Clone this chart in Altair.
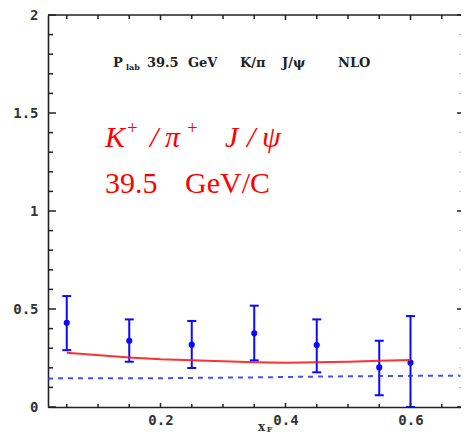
import altair as alt
import pandas as pd

# ---------------- data ----------------
xf = [0.05, 0.15, 0.25, 0.35, 0.45, 0.55, 0.60]
ratio = [0.430, 0.338, 0.318, 0.376, 0.316, 0.202, 0.226]
err_lo = [0.290, 0.231, 0.199, 0.238, 0.177, 0.060, 0.000]
err_hi = [0.566, 0.447, 0.439, 0.517, 0.447, 0.338, 0.464]

nlo_x = [0.05, 0.15, 0.20, 0.25, 0.30, 0.35, 0.40, 0.45, 0.50, 0.55, 0.60]
nlo_y = [0.277, 0.252, 0.243, 0.238, 0.233, 0.228, 0.226, 0.228, 0.231, 0.236, 0.240]

base_x = [0.02, 0.20, 0.35, 0.45, 0.55, 0.68]
base_y = [0.146, 0.147, 0.151, 0.155, 0.158, 0.160]

x_major = [0.2, 0.4, 0.6]
x_minor = [0.05, 0.10, 0.15, 0.25, 0.30, 0.35, 0.45, 0.50, 0.55, 0.65]
y_major = [0.0, 0.5, 1.0, 1.5, 2.0]
y_minor = [0.1, 0.2, 0.3, 0.4, 0.6, 0.7, 0.8, 0.9, 1.1, 1.2, 1.3, 1.4,
           1.6, 1.7, 1.8, 1.9]

# annotation texts
top_texts = ["P", "39.5", "GeV", "K/π", "J/ψ", "NLO"]
top_sub = ["lab"]
red_italic = ["K", "/", "π", "J", "/", "ψ"]
red_plus = ["+", "+"]
red_plain = ["39.5", "GeV/C"]

# annotation positions (data coordinates)
top_tx = [0.124, 0.1784, 0.244, 0.3272, 0.3944, 0.484]
top_ty = 1.7347
sub_tx = [0.1448]
sub_ty = 1.7194
ri_x = [0.1112, 0.1832, 0.2072, 0.3032, 0.3384, 0.3624]
ri_y = 1.3265
rp_x = [0.1464, 0.2424]
rp_y = 1.3929
rn_x = [0.1112, 0.2392]
rn_y = 1.0918
title_x = [0.3560, 0.3700]
title_y = [-0.1224, -0.1300]

W, H = 413, 392
X_DOM = [0.02, 0.6808]
Y_DOM = [0, 2]
xs = alt.Scale(domain=X_DOM, nice=False, zero=False)
ys = alt.Scale(domain=Y_DOM, nice=False, zero=False)

BLUE = "#0a0aff"
RED = "#ff1a1a"
AX = "#222222"
LABFONT = "DejaVu Sans Mono"

pts = pd.DataFrame({"x": xf, "y": ratio, "lo": err_lo, "hi": err_hi})
nlo = pd.DataFrame({"x": nlo_x, "y": nlo_y})
base = pd.DataFrame({"x": base_x, "y": base_y})

x_axis = alt.Axis(values=x_major, format=".1f", ticks=False, tickSize=0,
                  grid=False, domain=True, domainColor=AX, domainWidth=1.6,
                  labelFont=LABFONT, labelFontWeight="bold", labelFontSize=14,
                  labelColor="#333333", labelPadding=6, title=None)
y_axis = alt.Axis(values=y_major, ticks=False, tickSize=0, grid=False,
                  domain=True, domainColor=AX, domainWidth=1.6,
                  labelFont=LABFONT, labelFontWeight="bold", labelFontSize=14,
                  labelColor="#333333", labelPadding=10, title=None,
                  labelExpr="datum.value == 0 ? '0' : format(datum.value, '~g')")


def X(f="x"):
    return alt.X(f"{f}:Q", scale=xs, axis=x_axis)


def Y(f="y"):
    return alt.Y(f"{f}:Q", scale=ys, axis=y_axis)


points = alt.Chart(pts).mark_circle(size=38, color=BLUE, opacity=1).encode(
    x=X(), y=Y())
bars = alt.Chart(pts).mark_rule(color=BLUE, strokeWidth=2).encode(
    x=X(), y=Y("lo"), y2="hi:Q")
cap_hi = alt.Chart(pts).mark_rule(color=BLUE, strokeWidth=2, xOffset=-4.5,
                                  x2Offset=4.5).encode(
    x=X(), x2="x:Q", y=Y("hi"))
cap_lo = alt.Chart(pts).mark_rule(color=BLUE, strokeWidth=2, xOffset=-4.5,
                                  x2Offset=4.5).encode(
    x=X(), x2="x:Q", y=Y("lo"))

nlo_line = alt.Chart(nlo).mark_line(color=RED, strokeWidth=2, opacity=0.9).encode(
    x=X(), y=Y())
base_line = alt.Chart(base).mark_line(color="#2233ff", strokeWidth=2,
                                      strokeDash=[5, 5], opacity=0.85).encode(
    x=X(), y=Y())

# tick marks (inward)
ymaj = pd.DataFrame({"v": y_major})
ymin = pd.DataFrame({"v": y_minor})
xmaj = pd.DataFrame({"v": x_major})
xmin = pd.DataFrame({"v": x_minor})

yl_major = alt.Chart(ymaj).mark_rule(color=AX, strokeWidth=1.5).encode(
    y=Y("v"), x=alt.value(0), x2=alt.value(8))
yl_minor = alt.Chart(ymin).mark_rule(color=AX, strokeWidth=1.5).encode(
    y=Y("v"), x=alt.value(0), x2=alt.value(5))
yr_major = alt.Chart(ymaj).mark_rule(color=AX, strokeWidth=1.5).encode(
    y=Y("v"), x=alt.value(W - 4), x2=alt.value(W))
yr_minor = alt.Chart(ymin).mark_rule(color="#bbbbbb", strokeWidth=1).encode(
    y=Y("v"), x=alt.value(W - 2), x2=alt.value(W))
xb_major = alt.Chart(xmaj).mark_rule(color=AX, strokeWidth=1.5).encode(
    x=X("v"), y=alt.value(H), y2=alt.value(H - 4))
xb_minor = alt.Chart(xmin).mark_rule(color=AX, strokeWidth=1.5).encode(
    x=X("v"), y=alt.value(H), y2=alt.value(H - 3))
xt_major = alt.Chart(xmaj).mark_rule(color=AX, strokeWidth=1.5).encode(
    x=X("v"), y=alt.value(0), y2=alt.value(5))
xt_minor = alt.Chart(xmin).mark_rule(color=AX, strokeWidth=1.5).encode(
    x=X("v"), y=alt.value(0), y2=alt.value(4))
top_frame = alt.Chart(ymaj.head(1)).mark_rule(color=AX, strokeWidth=1.6).encode(
    x=alt.value(0), x2=alt.value(W), y=alt.value(0))

# annotations
t_top = alt.Chart(pd.DataFrame({"t": top_texts, "x": top_tx, "y": top_ty})).mark_text(
    font="DejaVu Serif", fontWeight="bold", fontSize=13, color="#222222",
    align="left", baseline="alphabetic").encode(x=X(), y=Y(), text="t:N")
t_sub = alt.Chart(pd.DataFrame({"t": top_sub, "x": sub_tx, "y": sub_ty})).mark_text(
    font="DejaVu Serif", fontWeight="bold", fontSize=8, color="#222222",
    align="left", baseline="alphabetic").encode(x=X(), y=Y(), text="t:N")
t_ri = alt.Chart(pd.DataFrame({"t": red_italic, "x": ri_x, "y": ri_y})).mark_text(
    font="Liberation Serif", fontStyle="italic", fontSize=30, color="#ff0000",
    align="left", baseline="alphabetic").encode(x=X(), y=Y(), text="t:N")
t_rp = alt.Chart(pd.DataFrame({"t": red_plus, "x": rp_x, "y": rp_y})).mark_text(
    font="Liberation Serif", fontSize=19, color="#ff0000",
    align="left", baseline="alphabetic").encode(x=X(), y=Y(), text="t:N")
t_rn = alt.Chart(pd.DataFrame({"t": red_plain, "x": rn_x, "y": rn_y})).mark_text(
    font="Liberation Serif", fontSize=30, color="#ff0000",
    align="left", baseline="alphabetic").encode(x=X(), y=Y(), text="t:N")
t_xt = alt.Chart(pd.DataFrame({"t": ["x"], "x": [title_x[0]], "y": [title_y[0]]})).mark_text(
    font="DejaVu Serif", fontWeight="bold", fontSize=12, color="#333333",
    align="left", baseline="alphabetic").encode(x=X(), y=Y(), text="t:N")
t_xs = alt.Chart(pd.DataFrame({"t": ["F"], "x": [title_x[1]], "y": [title_y[1]]})).mark_text(
    font="DejaVu Serif", fontWeight="bold", fontSize=8, color="#333333",
    align="left", baseline="alphabetic").encode(x=X(), y=Y(), text="t:N")

chart = alt.layer(
    points, bars, cap_hi, cap_lo, nlo_line, base_line,
    yl_major, yl_minor, yr_major, yr_minor, xb_major, xb_minor,
    xt_major, xt_minor, top_frame,
    t_top, t_sub, t_ri, t_rp, t_rn, t_xt, t_xs,
).properties(
    width=W, height=H,
    autosize=alt.AutoSizeParams(type="none"),
    padding={"left": 40, "top": 7, "right": 0, "bottom": 26},
    background="white",
).configure_view(stroke=None)

chart.save("out.html", embed_options={"renderer": "svg", "actions": False})
